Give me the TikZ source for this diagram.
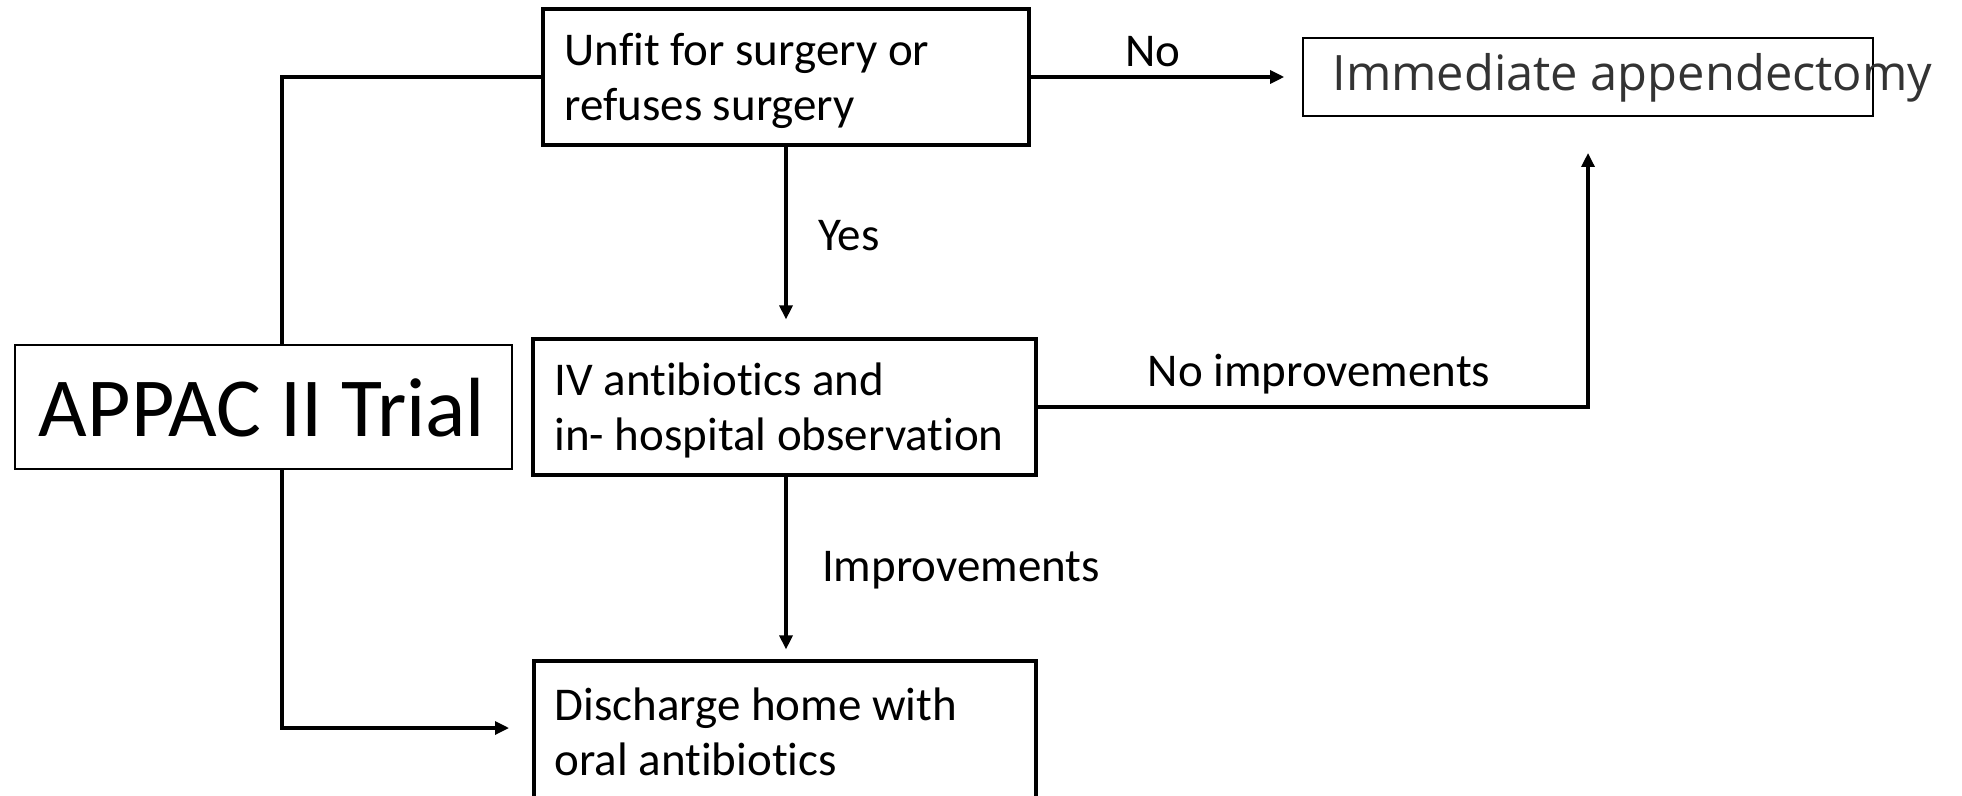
\documentclass[tikz,border=0pt]{standalone}
\usepackage{fontspec}
\setmainfont{Carlito}[Ligatures=NoCommon]
\newfontfamily\immfont{Open Sans}
\usetikzlibrary{arrows.meta}
\definecolor{immgray}{rgb}{0.2,0.2,0.2}
\tikzset{
  boxthick/.style={draw=black, line width=1.6pt, rectangle, inner sep=0pt},
  boxthin/.style={draw=black, line width=0.8pt, rectangle, inner sep=0pt},
  txt/.style={font=\fontsize{23.5}{27.5}\selectfont, align=left, inner sep=0pt},
  lbl/.style={font=\fontsize{23.5}{27.5}\selectfont, inner sep=0pt},
  conn/.style={line width=1.6pt, -{Triangle[length=7pt,width=6.5pt]}},
  plain/.style={line width=1.6pt}
}
\begin{document}
\begin{tikzpicture}[x=0.5pt,y=-0.5pt]
\useasboundingbox (0,0) rectangle (1962,796);
% boxes (sizes in pt = half the pixel sizes)
\node[boxthick, minimum width=243pt, minimum height=68pt] (unfit) at (786,77) {};
\node[txt, anchor=west] (unfitt) at (564,81) {Unfit for surgery or\\refuses surgery};
\node[boxthin, minimum width=285pt, minimum height=39pt] (imm) at (1588,77) {};
\node[anchor=west, inner sep=0pt, font=\immfont\fontsize{24.4}{29}\selectfont, text=immgray] (immt) at (1332,78) {Immediate appendectomy};
\node[boxthin, minimum width=248.5pt, minimum height=62pt] (appac) at (263.5,407) {};
\node[inner sep=0pt, font=\fontsize{42}{50}\selectfont] (appact) at (262,408) {APPAC II Trial};
\node[boxthick, minimum width=251.5pt, minimum height=68pt] (iv) at (784.5,407) {};
\node[txt, anchor=west] (ivt) at (554,410) {IV antibiotics and\\in- hospital observation};
\node[boxthick, minimum width=251pt, minimum height=70pt] (dis) at (785,731) {};
\node[txt, anchor=west] (dist) at (554,732) {Discharge home with\\oral antibiotics};
% connector helper points
\coordinate (a1) at (282,345);
\coordinate (a2) at (282,469);
\coordinate (dtarget) at (509,728);
\coordinate (ni) at (1588,407);
\coordinate (nitop) at (1588,153);
% connectors
\draw[plain] (a1) |- (unfit.west);
\draw[conn] (a2) |- (dtarget);
\draw[conn, shorten >=9pt] (unfit.east) -- (imm.west |- unfit.east);
\draw[conn, shorten >=9pt] (unfit.south) -- (iv.north -| unfit.south);
\draw[conn] (iv.east) -- (ni) -- (nitop);
\draw[conn, shorten >=5pt] (iv.south -| unfit.south) -- (dis.north -| unfit.south);
% labels
\node[lbl] (lno) at (1153,52) {No};
\node[lbl] (lyes) at (849,236) {Yes};
\node[lbl] (lnoimp) at (1319,374) {No improvements};
\node[lbl] (limp) at (961,570) {Improvements};
\end{tikzpicture}
\end{document}
